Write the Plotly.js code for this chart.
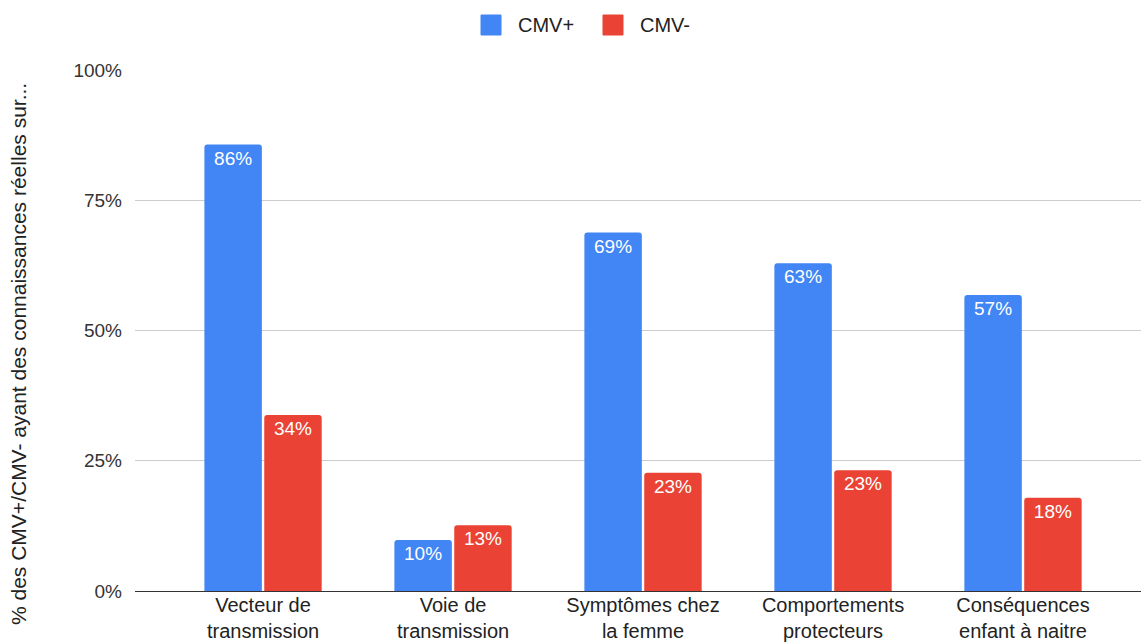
<!DOCTYPE html>
<html>
<head>
<meta charset="utf-8">
<script src="https://cdn.plot.ly/plotly-3.0.1.min.js"></script>
<style>html,body{margin:0;padding:0;background:#fff;}#chart{width:1141px;height:642px;}</style>
</head>
<body>
<div id="chart"></div>
<script>
const categories = ["Vecteur de<br>transmission", "Voie de<br>transmission", "Symptômes chez<br>la femme", "Comportements<br>protecteurs", "Conséquences<br>enfant à naitre"];
const cmvPlus = [85.7, 9.8, 68.8, 62.9, 56.8];
const cmvMinus = [33.8, 12.6, 22.7, 23.2, 17.9];
const seriesNames = ["CMV+", "CMV-"];
const seriesColors = ["#4285f4", "#ea4335"];
const yTicks = [0, 25, 50, 75, 100];
const yTickLabels = ["0%", "25%", "50%", "75%", "100%"];
const yTitle = "% des CMV+/CMV- ayant des connaissances réelles sur...";

const font = "Arial, 'Liberation Sans', sans-serif";
const idx = categories.map((c, i) => i);

// plot area geometry (pixels)
const W = 1141, H = 642, ML = 135, MR = 0, MT = 70, MB = 51;
const PW = W - ML - MR, PH = H - MT - MB;
const px = v => (v - ML) / PW;
const py = v => (H - MB - v) / PH;

function barTrace(name, vals, color) {
  return {
    type: "bar",
    name: name,
    x: idx,
    y: vals,
    marker: {color: color, cornerradius: 3},
    texttemplate: "%{y:.0f}%",
    textposition: "inside",
    insidetextanchor: "end",
    textangle: 0,
    textfont: {family: font, size: 19, color: "#ffffff"},
    hoverinfo: "none",
    showlegend: false
  };
}

const data = [
  barTrace(seriesNames[0], cmvPlus, seriesColors[0]),
  barTrace(seriesNames[1], cmvMinus, seriesColors[1])
];

// custom legend (top centre)
const legendItems = [{sq: 481, tx: 516}, {sq: 603, tx: 638}];
const shapes = legendItems.map((it, i) => ({
  type: "rect", xref: "paper", yref: "paper",
  x0: px(it.sq), x1: px(it.sq + 20), y0: py(35), y1: py(15),
  fillcolor: seriesColors[i], line: {color: seriesColors[i], width: 1}
}));
const legendTexts = legendItems.map((it, i) => ({
  text: seriesNames[i], xref: "paper", yref: "paper",
  x: px(it.tx), y: py(25), xanchor: "left", yanchor: "middle",
  showarrow: false, font: {family: font, size: 20, color: "#222222"}
}));

const layout = {
  width: W,
  height: H,
  margin: {l: ML, r: MR, t: MT, b: MB},
  paper_bgcolor: "#ffffff",
  plot_bgcolor: "#ffffff",
  font: {family: font, size: 20, color: "#222222"},
  barmode: "group",
  bargap: 0.37,
  bargroupgap: 0.04,
  showlegend: false,
  xaxis: {
    range: [-0.674, 4.621],
    tickmode: "array",
    tickvals: idx,
    ticktext: categories,
    showgrid: false,
    zeroline: false,
    showline: false,
    ticks: "",
    ticklabelstandoff: 0,
    tickfont: {family: font, size: 20, color: "#222222"},
    fixedrange: true
  },
  yaxis: {
    range: [0, 100],
    tickmode: "array",
    tickvals: yTicks,
    ticktext: yTickLabels,
    showgrid: true,
    gridcolor: "#cccccc",
    gridwidth: 1,
    zeroline: true,
    zerolinecolor: "#333333",
    zerolinewidth: 1,
    showline: false,
    ticks: "",
    ticklabelstandoff: 12,
    tickfont: {family: font, size: 19, color: "#333333"},
    fixedrange: true
  },
  shapes: shapes,
  annotations: [{
    text: yTitle,
    textangle: -90,
    xref: "paper", yref: "paper",
    x: px(18), y: py(354),
    xanchor: "center", yanchor: "middle",
    showarrow: false,
    font: {family: font, size: 21, color: "#222222"}
  }].concat(legendTexts)
};

Plotly.newPlot("chart", data, layout, {displayModeBar: false, staticPlot: true});
</script>
</body>
</html>
